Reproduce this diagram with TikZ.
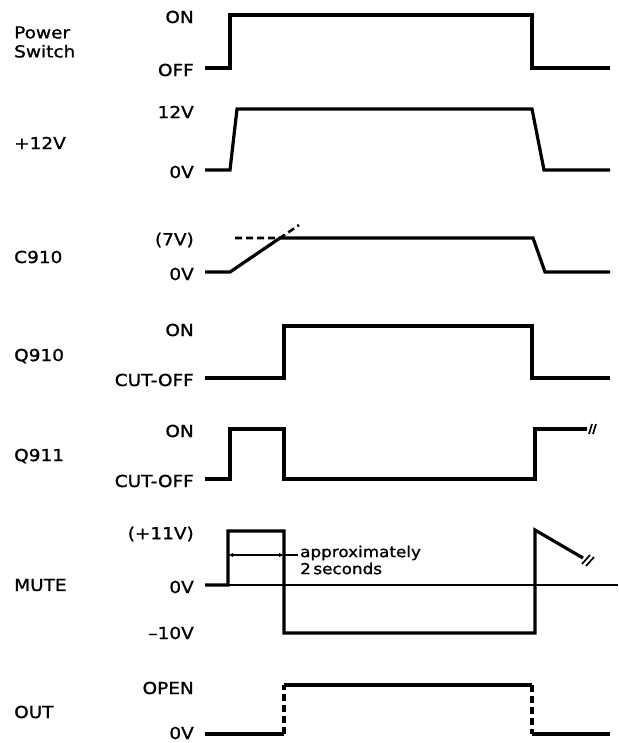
\documentclass[tikz,border=0pt]{standalone}
\usepackage{fontspec}
\setmainfont{DejaVu Sans}[FakeStretch=1.12, FakeBold=1.2]
\usetikzlibrary{arrows.meta}

\begin{document}
\begin{tikzpicture}[
  x=1pt, y=-1pt,
  every node/.style={font=\fontsize{16.5}{19}\selectfont, inner sep=0pt},
  signame/.style={anchor=west, align=left},
  lvlabel/.style={anchor=east},
  wave/.style={line width=3.2pt, line join=miter},
  zeroline/.style={line width=1.5pt},
  guess/.style={line width=3.2pt, dash pattern=on 7pt off 4pt},
  brk/.style={line width=1.7pt},
  dim/.style={line width=1.5pt, {Latex[length=5pt,width=4.5pt]}-{Latex[length=5pt,width=4.5pt]}}
]
\useasboundingbox (0,0) rectangle (618,743);

% Power Switch
\node[signame] (pwr) at (14,42) {Power\\Switch};
\node[lvlabel] (pwr-on) at (194,17) {ON};
\node[lvlabel] (pwr-off) at (194,70) {OFF};
\draw[wave] (205,68) -- (230,68) -- (230,15) -- (532,15) -- (532,68) -- (610,68);

% +12V
\node[signame] (v12) at (14,143) {+12V};
\node[lvlabel] (v12-hi) at (194,112) {12V};
\node[lvlabel] (v12-lo) at (194,172) {0V};
\draw[wave] (205,170) -- (230,170) -- (237,109) -- (532,109) -- (544,170) -- (610,170);

% C910
\node[signame] (c910) at (14,257) {C910};
\node[lvlabel] (c910-hi) at (194,240) {(7V)};
\node[lvlabel] (c910-lo) at (194,274) {0V};
\draw[wave] (205,272) -- (230,272) -- (280,238) -- (533,238) -- (545,272) -- (610,272);
\draw[guess, line width=2.6pt] (235,238) -- (280,238) -- (299,225);

% Q910
\node[signame] (q910) at (14,356) {Q910};
\node[lvlabel] (q910-on) at (194,330) {ON};
\node[lvlabel] (q910-off) at (194,380) {CUT-OFF};
\draw[wave] (205,378) -- (284,378) -- (284,326) -- (532,326) -- (532,378) -- (610,378);

% Q911
\node[signame] (q911) at (14,456) {Q911};
\node[lvlabel] (q911-on) at (194,431) {ON};
\node[lvlabel] (q911-off) at (194,481) {CUT-OFF};
\draw[wave] (205,479) -- (230,479) -- (230,429) -- (284,429) -- (284,479) -- (535,479) -- (535,429) -- (587,429);
\draw[brk] (589,434) -- (592,424);
\draw[brk] (593,434) -- (596,424);

% MUTE
\node[signame] (mute) at (14,585) {MUTE};
\node[lvlabel] (mute-hi) at (194,534) {(+11V)};
\node[lvlabel] (mute-zero) at (194,587) {0V};
\node[lvlabel] (mute-lo) at (194,633) {--10V};
\draw[zeroline] (205,585) -- (618,585);
\draw[wave] (205,585) -- (228,585) -- (228,531) -- (284,531) -- (284,633) -- (535,633) -- (535,530) -- (583,558);
\draw[brk] (582,564) -- (590,555);
\draw[brk] (586,566) -- (594,557);
\coordinate (t1) at (228,555);
\coordinate (t2) at (284,555);
\node[anchor=west, align=left, font=\fontsize{15}{17}\selectfont] (note) at (300,560) {approximately\\2\,seconds};
\draw[dim] (t1) -- (t2);
\draw[zeroline, shorten >=2pt] (t2) -- (t2 -| note.west);

% OUT
\node[signame] (out) at (14,712) {OUT};
\node[lvlabel] (out-open) at (194,688) {OPEN};
\node[lvlabel] (out-zero) at (194,733) {0V};
\draw[wave] (205,734) -- (284,734);
\draw[guess] (284,734) -- (284,685);
\draw[wave] (284,685) -- (532,685);
\draw[guess] (532,685) -- (532,734);
\draw[wave] (532,734) -- (610,734);
\end{tikzpicture}
\end{document}
